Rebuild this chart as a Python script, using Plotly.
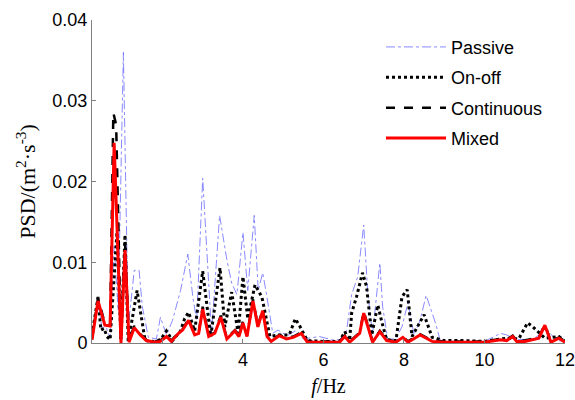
import plotly.graph_objects as go

# Passive
f_passive = [0.25,0.40,0.50,0.60,0.70,0.80,0.90,1.03,1.15,1.30,1.42,1.50,1.65,1.85,1.95,2.10,2.25,2.45,2.63,2.76,2.85,3.00,3.22,3.42,3.60,3.72,3.85,4.00,4.12,4.28,4.38,4.49,4.58,4.74,4.87,5.10,5.30,5.50,5.90,6.20,6.40,6.57,6.70,6.85,7.00,7.10,7.22,7.40,7.47,7.60,7.80,7.95,8.10,8.25,8.40,8.55,8.68,8.80,8.90,9.30,10.00,10.40,10.55,10.80,11.20,11.55,11.80,12.00]
psd_passive = [0.0008,0.0050,0.0018,0.0020,0.0006,0.0120,0.0040,0.0360,0.0020,0.0090,0.0090,0.0045,0.0007,0.0005,0.0032,0.0010,0.0028,0.0065,0.0110,0.0055,0.0028,0.0204,0.0012,0.0158,0.0103,0.0074,0.0060,0.0137,0.0065,0.0158,0.0065,0.0087,0.0062,0.0012,0.0016,0.0009,0.0015,0.0005,0.0008,0.0004,0.0004,0.0014,0.0060,0.0082,0.0146,0.0062,0.0010,0.0099,0.0045,0.0004,0.0006,0.0020,0.0050,0.0010,0.0028,0.0059,0.0040,0.0022,0.0003,0.0002,0.0002,0.0012,0.0010,0.0004,0.0005,0.0016,0.0003,0.0002]

# On-off
f_onoff = [0.25,0.40,0.47,0.55,0.62,0.70,0.87,0.97,1.07,1.15,1.37,1.57,1.80,1.95,2.10,2.25,2.45,2.55,2.65,2.80,3.00,3.20,3.43,3.55,3.72,3.88,4.00,4.12,4.30,4.47,4.67,4.90,5.15,5.30,5.40,5.60,6.00,6.40,6.53,6.65,6.70,6.82,6.97,7.07,7.20,7.35,7.45,7.57,7.80,7.95,8.08,8.20,8.50,8.70,9.00,9.50,10.00,10.55,10.85,11.07,11.20,11.50,11.85,12.00]
psd_onoff = [0.0010,0.0057,0.0016,0.0018,0.0008,0.0004,0.0137,0.0005,0.0134,0.0001,0.0065,0.0003,0.0002,0.0004,0.0015,0.0003,0.0015,0.0030,0.0038,0.0015,0.0089,0.0008,0.0093,0.0020,0.0063,0.0012,0.0082,0.0030,0.0072,0.0057,0.0008,0.0010,0.0010,0.0030,0.0022,0.0003,0.0002,0.0002,0.0014,0.0003,0.0037,0.0057,0.0087,0.0070,0.0010,0.0047,0.0026,0.0004,0.0003,0.0057,0.0066,0.0008,0.0035,0.0007,0.0003,0.0003,0.0002,0.0006,0.0005,0.0025,0.0020,0.0006,0.0008,0.0002]

# Continuous
f_cont = [0.25,0.40,0.57,0.70,0.78,0.85,0.97,1.07,1.17,1.30,1.45,1.60,1.80,1.95,2.10,2.22,2.40,2.50,2.65,2.80,2.90,3.00,3.15,3.30,3.45,3.60,3.80,3.90,4.00,4.10,4.25,4.37,4.49,4.60,4.70,4.90,5.08,5.25,5.45,5.60,6.00,6.40,6.53,6.65,6.90,7.00,7.22,7.40,7.57,7.80,7.97,8.10,8.40,8.70,9.00,9.50,10.00,10.40,10.55,10.70,10.80,11.00,11.20,11.35,11.50,11.65,11.85,12.00]
psd_cont = [0.0005,0.0056,0.0024,0.0022,0.0285,0.0270,0.0002,0.0125,0.0003,0.0021,0.0011,0.0004,0.0002,0.0003,0.0010,0.0003,0.0013,0.0017,0.0030,0.0011,0.0013,0.0045,0.0009,0.0013,0.0034,0.0006,0.0016,0.0009,0.0027,0.0009,0.0054,0.0021,0.0042,0.0009,0.0003,0.0010,0.0006,0.0008,0.0013,0.0002,0.0002,0.0002,0.0009,0.0002,0.0013,0.0039,0.0002,0.0015,0.0004,0.0002,0.0008,0.0002,0.0011,0.0003,0.0002,0.0002,0.0002,0.0005,0.0004,0.0009,0.0003,0.0003,0.0005,0.0007,0.0023,0.0002,0.0007,0.0002]

# Mixed
f_mixed = [0.25,0.40,0.57,0.70,0.80,0.97,1.07,1.17,1.30,1.45,1.60,1.80,1.95,2.10,2.22,2.40,2.50,2.65,2.80,2.90,3.00,3.15,3.30,3.45,3.60,3.80,3.90,4.00,4.10,4.25,4.37,4.49,4.60,4.70,4.90,5.08,5.25,5.45,5.60,6.00,6.40,6.53,6.65,6.90,7.00,7.22,7.40,7.57,7.80,7.97,8.10,8.40,8.70,9.00,9.50,10.00,10.40,10.55,10.70,10.80,11.00,11.20,11.35,11.50,11.65,11.85,12.00]
psd_mixed = [0.0004,0.0052,0.0022,0.0021,0.0248,0.0000,0.0115,0.0001,0.0019,0.0010,0.0003,0.0001,0.0002,0.0008,0.0002,0.0012,0.0016,0.0028,0.0010,0.0012,0.0042,0.0008,0.0012,0.0032,0.0005,0.0015,0.0008,0.0025,0.0008,0.0052,0.0020,0.0040,0.0008,0.0002,0.0009,0.0005,0.0007,0.0012,0.0001,0.0001,0.0001,0.0008,0.0001,0.0012,0.0037,0.0001,0.0014,0.0003,0.0001,0.0007,0.0001,0.0010,0.0002,0.0001,0.0001,0.0001,0.0004,0.0003,0.0008,0.0002,0.0002,0.0004,0.0006,0.0022,0.0001,0.0006,0.0001]

x_ticks = [2, 4, 6, 8, 10, 12]
y_ticks = [0, 0.01, 0.02, 0.03, 0.04]
y_tick_labels = ["0", "0.01", "0.02", "0.03", "0.04"]

serif = "Liberation Serif, Times New Roman, serif"

fig = go.Figure()
fig.add_trace(go.Scatter(x=f_passive, y=psd_passive, mode="lines", name="Passive", legendgroup="a",
                         line=dict(color="#6b6bff", width=0.8, dash="dashdot")))
fig.add_trace(go.Scatter(x=f_onoff, y=psd_onoff, mode="lines", name="On-off", legendgroup="b",
                         line=dict(color="black", width=3, dash="dot")))
fig.add_trace(go.Scatter(x=f_cont, y=psd_cont, mode="lines", name="Continuous", legendgroup="c",
                         line=dict(color="black", width=2.5, dash="dash")))
fig.add_trace(go.Scatter(x=f_mixed, y=psd_mixed, mode="lines", name="Mixed", legendgroup="d",
                         line=dict(color="#ff0000", width=3)))

fig.update_layout(
    width=575, height=400,
    margin=dict(l=92, r=10, t=20, b=57, autoexpand=False),
    plot_bgcolor="white", paper_bgcolor="white",
    font=dict(family="Liberation Sans, Arial, sans-serif", size=18, color="black"),
    legend=dict(x=0.611, y=0.973, xanchor="left", yanchor="top",
                bgcolor="rgba(0,0,0,0)", borderwidth=0,
                font=dict(size=18), tracegroupgap=4, itemwidth=60),
    showlegend=True,
)
fig.update_xaxes(range=[0.25, 12], tickvals=x_ticks, ticks="inside", ticklen=4,
                 showline=True, linecolor="#808080", linewidth=1, tickcolor="#808080",
                 showgrid=False, zeroline=False, tickfont=dict(size=18),
                 automargin=False, ticklabeloverflow="allow",
                 title=dict(text="<i>f</i>/Hz", font=dict(family=serif, size=20), standoff=10))
fig.update_yaxes(range=[0, 0.04], tickvals=y_ticks, ticktext=y_tick_labels, ticks="inside", ticklen=4,
                 showline=True, linecolor="#808080", linewidth=1, tickcolor="#808080",
                 showgrid=False, zeroline=False, tickfont=dict(size=18),
                 automargin=False, ticklabeloverflow="allow",
                 title=dict(text="PSD/(m<sup>2</sup>·s<sup>-3</sup>)", font=dict(family=serif, size=22), standoff=10))

# remove the default 8px page margin so the 575x400 figure fills the window exactly
fig.write_html("out.html", config={"displayModeBar": False},
               post_script="document.body.style.margin='0';document.body.style.overflow='hidden';")
